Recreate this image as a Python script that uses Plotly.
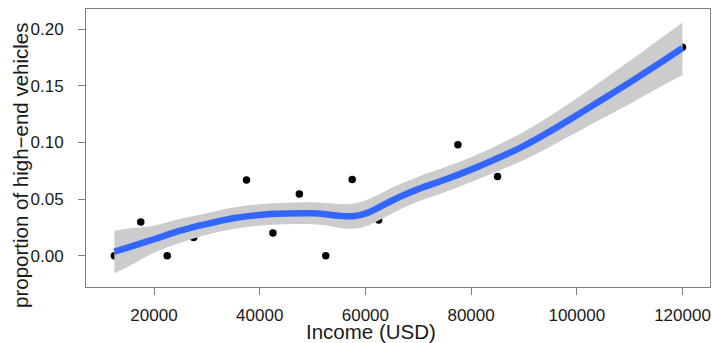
import plotly.graph_objects as go

# observed points
income = [12500, 17500, 22500, 27500, 37500, 42500, 47500, 52500, 57500, 62500, 77500, 85000, 120000]
proportion = [0.0, 0.0298, 0.0, 0.016, 0.0669, 0.020, 0.0545, 0.0, 0.0672, 0.0315, 0.098, 0.070, 0.184]

# smoothed fit and confidence band
fit_x = [12500, 15000, 20000, 25000, 30000, 35000, 40000, 45000, 50000, 52500, 55000, 57500, 60000,
         62500, 65000, 67500, 70000, 75000, 80000, 85000, 90000, 95000, 100000, 105000, 110000, 115000, 120000]
fit_y = [0.0035, 0.0070, 0.0145, 0.0220, 0.0280, 0.0330, 0.0360, 0.0372, 0.0374, 0.0366, 0.0352, 0.0348, 0.0372,
         0.0425, 0.0485, 0.0540, 0.0588, 0.0670, 0.0760, 0.0860, 0.0970, 0.1100, 0.1240, 0.1385, 0.1530, 0.1680, 0.1835]
fit_lo = [-0.0155, -0.0100, 0.0025, 0.0115, 0.0185, 0.0235, 0.0265, 0.0277, 0.0277, 0.0266, 0.0247, 0.0238, 0.0258,
          0.0310, 0.0372, 0.0430, 0.0478, 0.0560, 0.0650, 0.0745, 0.0845, 0.0965, 0.1090, 0.1215, 0.1340, 0.1470, 0.1595]
fit_hi = [0.0220, 0.0240, 0.0265, 0.0325, 0.0375, 0.0425, 0.0455, 0.0467, 0.0471, 0.0466, 0.0457, 0.0458, 0.0487,
          0.0540, 0.0600, 0.0650, 0.0698, 0.0780, 0.0870, 0.0975, 0.1095, 0.1235, 0.1390, 0.1555, 0.1720, 0.1890, 0.2060]

x_ticks = [20000, 40000, 60000, 80000, 100000, 120000]
y_ticks = [0.0, 0.05, 0.10, 0.15, 0.20]

fig = go.Figure()
fig.add_trace(go.Scatter(x=income, y=proportion, mode="markers",
                         marker=dict(color="black", size=7.5), showlegend=False))
fig.add_trace(go.Scatter(x=fit_x, y=fit_lo, mode="lines", line=dict(width=0, shape="spline"),
                         showlegend=False, hoverinfo="skip"))
fig.add_trace(go.Scatter(x=fit_x, y=fit_hi, mode="lines", line=dict(width=0, shape="spline"),
                         fill="tonexty", fillcolor="#cccccc", showlegend=False, hoverinfo="skip"))
fig.add_trace(go.Scatter(x=fit_x, y=fit_y, mode="lines", line=dict(color="#3366ff", width=6.5, shape="spline"),
                         showlegend=False))

W, H = 712, 343
L, R, T, B = 86, 2, 9, 56
pw, ph = W - L - R, H - T - B

fig.update_layout(
    width=W, height=H,
    margin=dict(l=L, r=R, t=T, b=B),
    plot_bgcolor="white", paper_bgcolor="white",
    font=dict(family="Liberation Sans, Arial, sans-serif", color="#1a1a1a", size=17),
    xaxis=dict(range=[7134, 125203], tickvals=x_ticks, ticktext=[str(v) for v in x_ticks],
               showgrid=False, zeroline=False, showline=True, mirror=True, linecolor="#7f7f7f", linewidth=1,
               ticks="outside", ticklen=7, tickcolor="#7f7f7f", tickwidth=1,
               tickfont=dict(size=17), ticklabelstandoff=6),
    yaxis=dict(range=[-0.0277, 0.2179], tickvals=y_ticks, ticktext=["%.2f" % v for v in y_ticks],
               showgrid=False, zeroline=False, showline=True, mirror=True, linecolor="#7f7f7f", linewidth=1,
               ticks="outside", ticklen=7, tickcolor="#7f7f7f", tickwidth=1,
               tickfont=dict(size=17), ticklabelstandoff=11),
    annotations=[
        dict(text="Income (USD)", xref="paper", yref="paper",
             x=(371 - L) / pw, y=-(331 - T - ph) / ph, xanchor="center", yanchor="middle",
             showarrow=False, font=dict(size=20.5, color="#1a1a1a")),
        dict(text="proportion of high\u2212end vehicles", xref="paper", yref="paper",
             x=(20 - L) / pw, y=1 - (165 - T) / ph, xanchor="center", yanchor="middle",
             textangle=-90, showarrow=False, font=dict(size=20.5, color="#1a1a1a")),
    ],
)

fig.write_html("out.html")
